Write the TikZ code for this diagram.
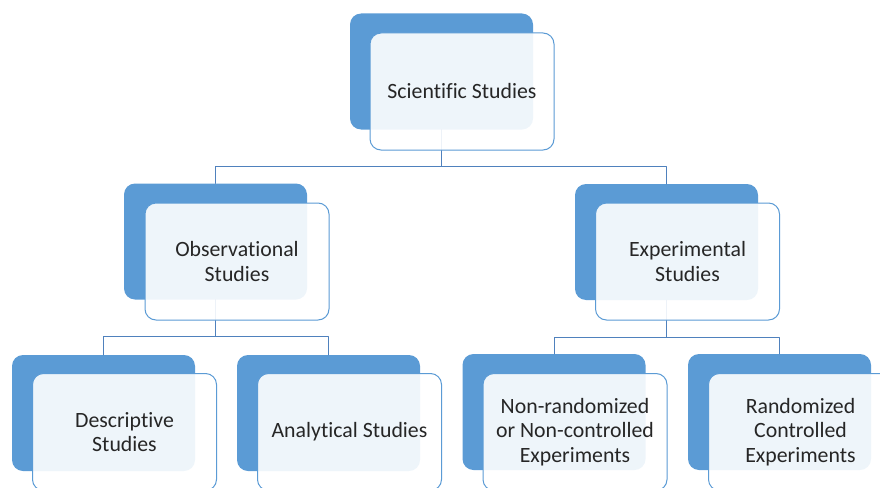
\documentclass[tikz,border=0pt]{standalone}
\usepackage{fontspec}
\setmainfont{Carlito}[Ligatures=NoCommon]
\usepackage{tikz}
\usetikzlibrary{positioning}
\definecolor{boxblue}{HTML}{5B9BD5}
\definecolor{linkblue}{HTML}{4F81BD}
\definecolor{textgrey}{HTML}{262626}

\begin{document}
\begin{tikzpicture}[line cap=round,line join=round,x=1pt,y=-1pt,
  back/.style={fill=boxblue,rounded corners=11pt,minimum width=183pt,minimum height=116pt,inner sep=0pt},
  front/.style={fill=white,fill opacity=0.9,text opacity=1,draw=boxblue,line width=1pt,rounded corners=11pt,minimum width=184pt,minimum height=117pt,inner sep=0pt,align=center,text=textgrey,font=\fontsize{21.8}{24.3}\selectfont},
  link/.style={draw=linkblue,line width=1pt}]
\clip(0,0) rectangle (880,487);
\node [back] (sci) at (441.5,71.5) {};
\node [back] (obs) at (215.5,241.5) {};
\node [back] (exp) at (666.5,242) {};
\node [back] (desc) at (103.5,413) {};
\node [back] (anal) at (328.5,413) {};
\node [back] (nonrand) at (554,412) {};
\node [back] (rand) at (779.5,412) {};
\draw [link] (sci.south) -- ++(0,37) -| (obs.north);
\draw [link] (sci.south) -- ++(0,37) -| (exp.north);
\draw [link] (obs.south) -- ++(0,37) -| (desc.north);
\draw [link] (obs.south) -- ++(0,37) -| (anal.north);
\draw [link] (exp.south) -- ++(0,37) -| (nonrand.north);
\draw [link] (exp.south) -- ++(0,37) -| (rand.north);
\node [front] (scitext) at (462,91.5) {Scientific Studies};
\node [front] (obstext) at (237,261.5) {Observational\\Studies};
\node [front] (exptext) at (687.5,261.5) {Experimental\\Studies};
\node [front] (desctext) at (124.5,432) {Descriptive\\Studies};
\node [front] (analtext) at (349.5,432) {Analytical Studies};
\node [front] (nonrandtext) at (575,432) {Non-randomized\\or Non-controlled\\Experiments};
\node [front] (randtext) at (800.5,432) {Randomized\\Controlled\\Experiments};
\end{tikzpicture}
\end{document}
